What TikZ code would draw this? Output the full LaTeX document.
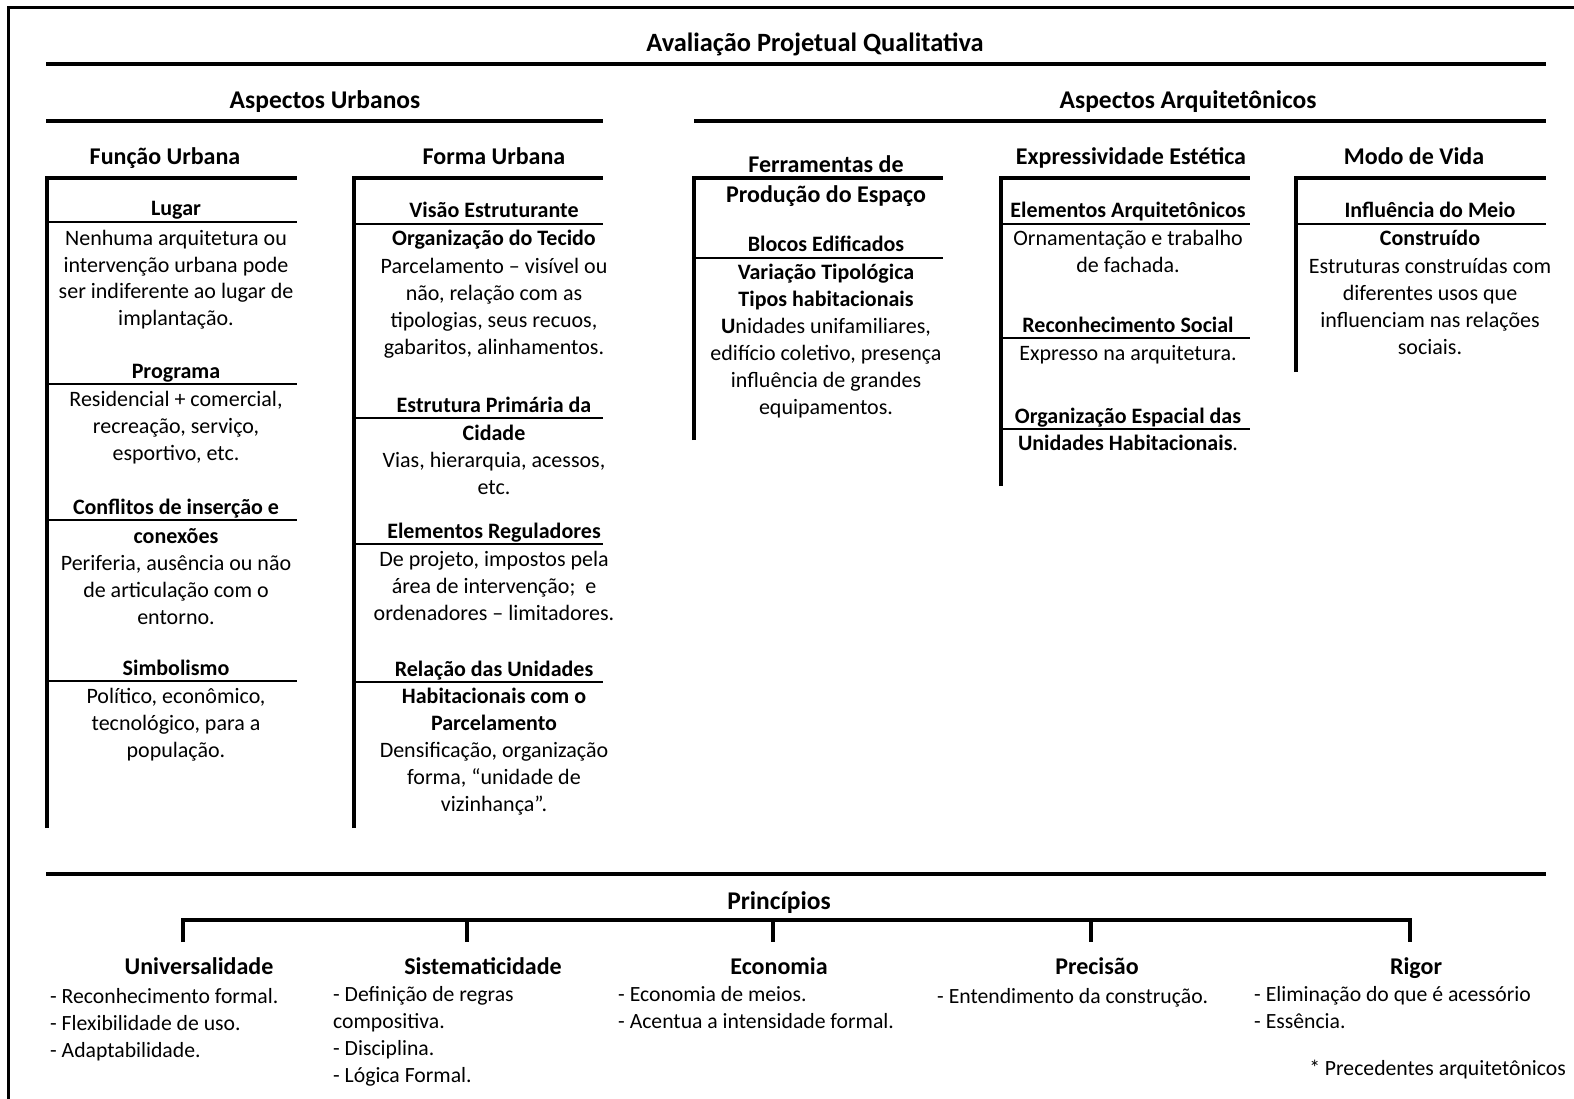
\documentclass[tikz,border=0pt]{standalone}
\usepackage{fontspec}
\setmainfont{Carlito}

\begin{document}
\begin{tikzpicture}[x=1pt,y=-1pt]
        \tikzset{
            titulo/.style={font=\fontsize{25.5}{30}\selectfont\bfseries, anchor=base, inner sep=0pt},
            cabecalho/.style={font=\fontsize{24}{30}\selectfont\bfseries, anchor=base, inner sep=0pt},
            subtitulo/.style={font=\fontsize{22}{27}\selectfont\bfseries, anchor=base, inner sep=0pt, align=center},
            texto/.style={font=\fontsize{22}{27}\selectfont, anchor=base, inner sep=0pt, align=center},
            item/.style={font=\fontsize{21.7}{27}\selectfont, anchor=base west, inner sep=0pt, align=left},
            linha/.style={black, line width=3.5pt},
            fina/.style={black, line width=2.6pt}
        }
        \useasboundingbox (0,0) rectangle (1574,1099);
        \draw[black, line width=3pt] (8,1099) -- (8,8) -- (1574,8);

        \node[titulo, font=\fontsize{26.4}{30}\selectfont\bfseries] (aval) at (815,52) {Avaliação Projetual Qualitativa};
        \draw[linha] (46,64) -- (1546,64);
        \node[titulo] (urb) at (325,109) {Aspectos Urbanos};
        \draw[linha] (46,121) -- (603,121);
        \node[titulo] (arq) at (1188,109) {Aspectos Arquitetônicos};
        \draw[linha] (694,121) -- (1546,121);

        \foreach \x/\yb/\xr in {47/828/297, 354/828/603, 694/440/943, 1001/486/1250, 1296/372/1546} { %COLCHETES
            \draw[linha] (\x,\yb) -- (\x,178) -- (\xr,178);
        }
        \foreach \y in {222,384,520,681} { %LINHAS COLUNA 1
            \draw[fina] (47,\y) -- (297,\y);
        }
        \foreach \y in {224,418,544,682} { %LINHAS COLUNA 2
            \draw[fina] (354,\y) -- (603,\y);
        }
        \draw[fina] (694,258) -- (943,258);
        \foreach \y in {224,338,429} { %LINHAS COLUNA 4
            \draw[fina] (1001,\y) -- (1250,\y);
        }
        \draw[fina] (1296,224) -- (1546,224);

        % FUNCAO URBANA (blocos de texto presos pela ultima linha)
        \node[cabecalho] (func) at (165,165) {Função Urbana};
        \node[subtitulo] (lugar) at (176,216) {Lugar};
        \node[texto] (lugar-txt) at (176,326) {Nenhuma arquitetura ou\\intervenção urbana pode\\ser indiferente ao lugar de\\implantação.};
        \node[subtitulo] (prog) at (176,378) {Programa};
        \node[texto] (prog-txt) at (176,460) {Residencial + comercial,\\recreação, serviço,\\esportivo, etc.};
        \node[subtitulo] (confl) at (176,514) {Conflitos de inserção e};
        \node[subtitulo] (confl-b) at (176,543) {conexões};
        \node[texto] (confl-txt) at (176,624) {Periferia, ausência ou não\\de articulação com o\\entorno.};
        \node[subtitulo] (simb) at (176,675) {Simbolismo};
        \node[texto] (simb-txt) at (176,757) {Político, econômico,\\tecnológico, para a\\população.};

        % FORMA URBANA
        \node[cabecalho] (forma) at (494,165) {Forma Urbana};
        \node[subtitulo] (visao) at (494,218) {Visão Estruturante};
        \node[subtitulo] (visao-b) at (494,246) {Organização do Tecido};
        \node[texto] (visao-txt) at (494,354) {Parcelamento – visível ou\\não, relação com as\\tipologias, seus recuos,\\gabaritos, alinhamentos.};
        \node[subtitulo] (estr) at (494,412) {Estrutura Primária da};
        \node[subtitulo] (estr-b) at (494,440) {Cidade};
        \node[texto] (estr-txt) at (494,494) {Vias, hierarquia, acessos,\\etc.};
        \node[subtitulo] (elem) at (494,538) {Elementos Reguladores};
        \node[texto] (elem-txt) at (494,620) {De projeto, impostos pela\\área de intervenção;~ e\\ordenadores – limitadores.};
        \node[subtitulo] (rel) at (494,676) {Relação das Unidades};
        \node[subtitulo] (rel-b) at (494,730) {Habitacionais com o\\Parcelamento};
        \node[texto] (rel-txt) at (494,811) {Densificação, organização\\forma, “unidade de\\vizinhança”.};

        % FERRAMENTAS
        \node[cabecalho] (ferr) at (826,173) {Ferramentas de};
        \node[cabecalho] (ferr-b) at (826,203) {Produção do Espaço};
        \node[subtitulo] (blocos) at (826,252) {Blocos Edificados};
        \node[subtitulo] (blocos-b) at (826,306) {Variação Tipológica\\Tipos habitacionais};
        \node[texto] (blocos-txt) at (826,414) {\textbf{U}nidades unifamiliares,\\edifício coletivo, presença\\influência de grandes\\equipamentos.};

        % EXPRESSIVIDADE
        \node[cabecalho] (expr) at (1131,165) {Expressividade Estética};
        \node[subtitulo] (earq) at (1128,218) {Elementos Arquitetônicos};
        \node[texto] (earq-txt) at (1128,273) {Ornamentação e trabalho\\de fachada.};
        \node[subtitulo] (recon) at (1128,332) {Reconhecimento Social};
        \node[texto] (recon-txt) at (1128,360) {Expresso na arquitetura.};
        \node[subtitulo] (orgesp) at (1128,423) {Organização Espacial das};
        \node[texto] (orgesp-b) at (1128,450) {\textbf{Unidades Habitacionais}.};

        % MODO DE VIDA
        \node[cabecalho] (modo) at (1414,165) {Modo de Vida};
        \node[subtitulo] (infl) at (1430,218) {Influência do Meio};
        \node[subtitulo] (infl-b) at (1430,246) {Construído};
        \node[texto] (infl-txt) at (1430,354) {Estruturas construídas com\\diferentes usos que\\influenciam nas relações\\sociais.};

        % PRINCIPIOS
        \draw[linha] (46,874) -- (1546,874);
        \node[titulo] (princ) at (779,909) {Princípios};
        \draw[linha] (183,942) -- (183,920) -- (1410,920) -- (1410,942);
        \foreach \x in {467,773,1091} {
            \draw[linha] (\x,920) -- (\x,942);
        }
        \node[cabecalho] (univ) at (199,974) {Universalidade};
        \node[item] (univ-txt) at (50,1057) {- Reconhecimento formal.\\- Flexibilidade de uso.\\- Adaptabilidade.};
        \node[cabecalho] (sist) at (483,974) {Sistematicidade};
        \node[item] (sist-txt) at (333,1082) {- Definição de regras\\compositiva.\\- Disciplina.\\- Lógica Formal.};
        \node[cabecalho] (econ) at (779,974) {Economia};
        \node[item] (econ-txt) at (618,1028) {- Economia de meios.\\- Acentua a intensidade formal.};
        \node[cabecalho] (prec) at (1097,974) {Precisão};
        \node[item] (prec-txt) at (937,1003) {- Entendimento da construção.};
        \node[cabecalho] (rigor) at (1416,974) {Rigor};
        \node[item] (rigor-txt) at (1254,1028) {- Eliminação do que é acessório\\- Essência.};
        \node[item, anchor=base east] (preced) at (1566,1075) {* Precedentes arquitetônicos};

    \end{tikzpicture}
\end{document}
